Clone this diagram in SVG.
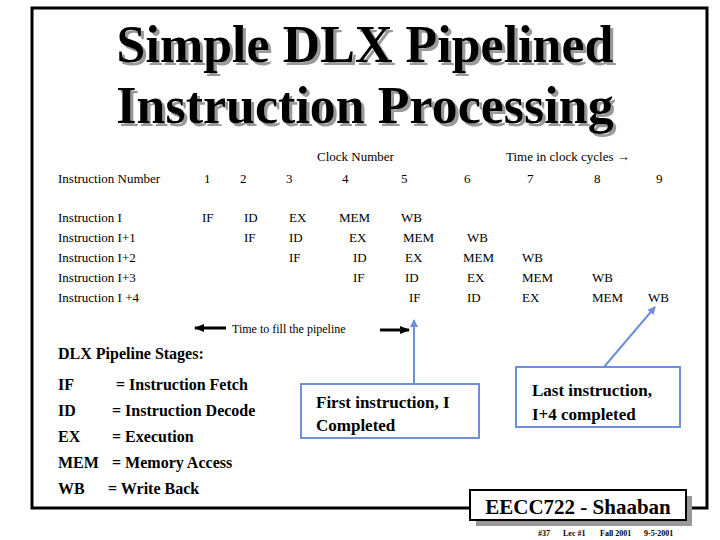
<svg xmlns="http://www.w3.org/2000/svg" width="720" height="540" viewBox="0 0 720 540">
<style>
.t{font-family:"Liberation Serif",serif;font-size:13px;fill:#000}
.b{font-family:"Liberation Serif",serif;font-size:16px;font-weight:bold;fill:#000}
.c{font-family:"Liberation Serif",serif;font-size:17px;font-weight:bold;fill:#000}
.ti{font-family:"Liberation Serif",serif;font-size:52px;font-weight:bold;text-anchor:middle}
.box{fill:#fff;stroke:#6f8fdc;stroke-width:2}
.bl{stroke:#6f8fdc;stroke-width:2;fill:none}
.f{font-family:"Liberation Serif",serif;font-size:8px;font-weight:bold}
</style>
<defs>
<marker id="ba" markerWidth="8" markerHeight="8" refX="7" refY="4" orient="auto" markerUnits="userSpaceOnUse"><path d="M0,0L8,4L0,8z" fill="#6f8fdc"/></marker>
<marker id="ka" markerWidth="10" markerHeight="8" refX="9" refY="4" orient="auto" markerUnits="userSpaceOnUse"><path d="M0,0L10,4L0,8z" fill="#000"/></marker>
<filter id="sh" x="-5%" y="-20%" width="110%" height="140%"><feOffset in="SourceAlpha" dx="3" dy="3" result="o"/><feFlood flood-color="#999"/><feComposite in2="o" operator="in" result="s"/><feMerge><feMergeNode in="s"/><feMergeNode in="SourceGraphic"/></feMerge></filter>
</defs>
<rect width="720" height="540" fill="#fff"/>
<rect x="32" y="8" width="675" height="500" fill="none" stroke="#000" stroke-width="3"/>
<g id="title" filter="url(#sh)">
<text class="ti" x="365" y="62">Simple DLX Pipelined</text>
<text class="ti" x="365" y="123">Instruction Processing</text>
</g>
<g id="table" class="t">
<text x="317" y="161">Clock Number</text>
<text x="506" y="161">Time in clock cycles →</text>
<text x="58" y="183">Instruction Number</text>
<text x="204" y="183">1</text><text x="240" y="183">2</text><text x="286" y="183">3</text><text x="342" y="183">4</text><text x="401" y="183">5</text><text x="464" y="183">6</text><text x="527" y="183">7</text><text x="594" y="183">8</text><text x="656" y="183">9</text>
<text x="58" y="222">Instruction I</text>
<text x="58" y="242">Instruction I+1</text>
<text x="58" y="262">Instruction I+2</text>
<text x="58" y="282">Instruction I+3</text>
<text x="58" y="302">Instruction I +4</text>
<text x="202" y="222">IF</text>
<text x="244" y="222">ID</text><text x="244" y="242">IF</text>
<text x="289" y="222">EX</text><text x="289" y="242">ID</text><text x="289" y="262">IF</text>
<text x="339" y="222">MEM</text><text x="349" y="242">EX</text><text x="353" y="262">ID</text><text x="353" y="282">IF</text>
<text x="401" y="222">WB</text><text x="403" y="242">MEM</text><text x="405" y="262">EX</text><text x="405" y="282">ID</text><text x="409" y="302">IF</text>
<text x="467" y="242">WB</text><text x="463" y="262">MEM</text><text x="467" y="282">EX</text><text x="467" y="302">ID</text>
<text x="522" y="262">WB</text><text x="522" y="282">MEM</text><text x="522" y="302">EX</text>
<text x="592" y="282">WB</text><text x="592" y="302">MEM</text>
<text x="648" y="302">WB</text>
<text x="232" y="333" style="font-size:12px">Time to fill the pipeline</text>
</g>
<g id="connectors">
<line x1="226" y1="328" x2="195" y2="328" stroke="#000" stroke-width="3" marker-end="url(#ka)"/>
<line x1="380" y1="330" x2="409" y2="330" stroke="#000" stroke-width="3" marker-end="url(#ka)"/>
<line class="bl" x1="414" y1="384" x2="414" y2="320" marker-end="url(#ba)"/>
<line class="bl" x1="604" y1="367" x2="655" y2="307" marker-end="url(#ba)"/>
</g>
<g id="stages" class="b">
<text x="58" y="359">DLX Pipeline Stages:</text>
<text x="58" y="390">IF</text><text x="116" y="390">=  Instruction Fetch</text>
<text x="58" y="416">ID</text><text x="112" y="416">=  Instruction Decode</text>
<text x="58" y="442">EX</text><text x="112" y="442">=  Execution</text>
<text x="58" y="468">MEM</text><text x="112" y="468">=  Memory Access</text>
<text x="58" y="494">WB</text><text x="108" y="494">=  Write Back</text>
</g>
<g id="first">
<rect class="box" x="301" y="384" width="178" height="54"/>
<text class="c" x="316" y="408">First instruction, I</text>
<text class="c" x="316" y="431">Completed</text>
</g>
<g id="last">
<rect class="box" x="516" y="367" width="164" height="60"/>
<text class="c" x="532" y="396">Last instruction,</text>
<text class="c" x="532" y="420">I+4 completed</text>
</g>
<g id="footer">
<rect x="476" y="496" width="216" height="30" fill="#999"/>
<rect x="470" y="490" width="216" height="30" fill="#fff" stroke="#000" stroke-width="2"/>
<text x="578" y="514" text-anchor="middle" style="font-family:'Liberation Serif',serif;font-size:21px;font-weight:bold">EECC722 - Shaaban</text>
<text class="f" x="538" y="536">#37</text><text class="f" x="563" y="536">Lec #1</text><text class="f" x="600" y="536">Fall 2001</text><text class="f" x="644" y="536">9-5-2001</text>
</g>
</svg>
